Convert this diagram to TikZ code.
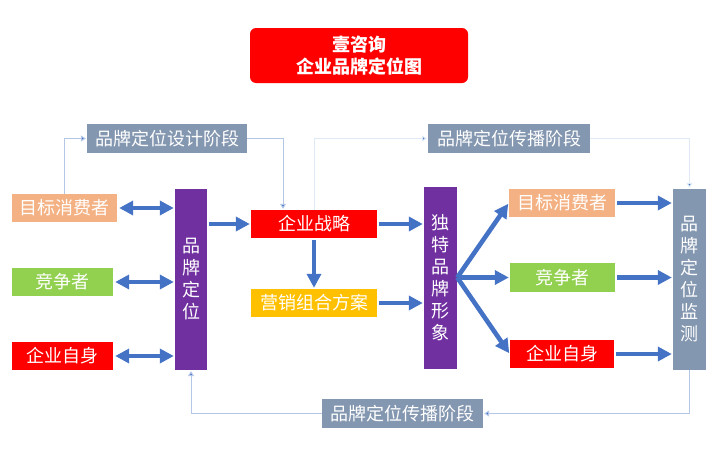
\documentclass[tikz,border=0pt]{standalone}
\usepackage{fontspec}
\setmainfont{Noto Sans CJK SC}
\usetikzlibrary{arrows.meta}
\definecolor{grisazul}{HTML}{8497B0}
\definecolor{naranja}{HTML}{F4B183}
\definecolor{verde}{HTML}{92D050}
\definecolor{morado}{HTML}{7030A0}
\definecolor{amarillo}{HTML}{FFC000}
\definecolor{azul}{HTML}{4472C4}
\definecolor{claro}{HTML}{B4C7E7}
\definecolor{muyclaro}{HTML}{DEEBF7}
\tikzset{
  caja/.style={text=white, inner sep=0pt, font=\fontsize{18}{20}\selectfont},
  barra/.style={caja, align=center, text width=20pt, font=\fontsize{18}{22}\selectfont},
  grueso/.style={azul, line width=4.6pt, -{Triangle[length=14pt,width=14pt]}, shorten >=1pt, shorten <=2pt},
  doble/.style={grueso, {Triangle[length=14pt,width=14pt]}-{Triangle[length=14pt,width=14pt]}},
  fino/.style={claro, line width=1pt},
  punta/.style={-{Triangle[length=5pt,width=6pt,fill=azul]}, shorten >=1pt}
}
\begin{document}
\begin{tikzpicture}[x=1pt,y=-1pt]
  \useasboundingbox (0,0) rectangle (720,450);

  % Titulo
  \node[caja, fill=red, rounded corners=6pt, minimum width=218pt, minimum height=55pt, align=center, font=\fontsize{18}{22}\selectfont\bfseries] (titulo) at (359,55.5) {壹咨询\\企业品牌定位图};

  % Etapas
  \node[caja, fill=grisazul, minimum width=160pt, minimum height=29pt] (diseno) at (167,138.5) {品牌定位设计阶段};
  \node[caja, fill=grisazul, minimum width=162pt, minimum height=29pt] (difusion) at (509,138.5) {品牌定位传播阶段};
  \node[caja, fill=grisazul, minimum width=161pt, minimum height=29pt] (retorno) at (402.5,413.5) {品牌定位传播阶段};

  % Columna izquierda
  \node[caja, fill=naranja, minimum width=105pt, minimum height=28pt] (consumoL) at (64.5,208) {目标消费者};
  \node[caja, fill=verde, minimum width=101pt, minimum height=28pt] (rivalL) at (62.5,282) {竞争者};
  \node[caja, fill=red, minimum width=101pt, minimum height=28pt] (empresaL) at (62.5,356) {企业自身};
  \node[barra, fill=morado, minimum width=32pt, minimum height=181pt] (posicion) at (191,279.5) {品\\牌\\定\\位};

  % Centro
  \node[caja, fill=red, minimum width=126pt, minimum height=28pt] (estrategia) at (314,224) {企业战略};
  \node[caja, fill=amarillo, minimum width=126pt, minimum height=28pt] (mezcla) at (314,303) {营销组合方案};
  \node[barra, fill=morado, minimum width=33pt, minimum height=182pt] (imagen) at (440.5,277.5) {独\\特\\品\\牌\\形\\象};

  % Columna derecha
  \node[caja, fill=naranja, minimum width=106pt, minimum height=28pt] (consumoR) at (562,203) {目标消费者};
  \node[caja, fill=verde, minimum width=105pt, minimum height=29pt] (rivalR) at (562.5,277.5) {竞争者};
  \node[caja, fill=red, minimum width=104pt, minimum height=28pt] (empresaR) at (562,354) {企业自身};
  \node[barra, fill=grisazul, minimum width=33pt, minimum height=181pt] (monitor) at (689.5,279.5) {品\\牌\\定\\位\\监\\测};

  % Flechas gruesas
  \draw[doble] (consumoL.east) -- (consumoL.east -| posicion.west);
  \draw[doble] (rivalL.east) -- (rivalL.east -| posicion.west);
  \draw[doble] (empresaL.east) -- (empresaL.east -| posicion.west);
  \draw[grueso] (estrategia.west -| posicion.east) -- (estrategia.west);
  \draw[grueso] (estrategia.south) -- (mezcla.north);
  \draw[grueso] (estrategia.east) -- (estrategia.east -| imagen.west);
  \draw[grueso] (mezcla.east) -- (mezcla.east -| imagen.west);
  \draw[grueso, shorten <=0pt] (imagen.east) -- (consumoR.west);
  \draw[grueso, shorten <=0pt] (imagen.east) -- (rivalR.west);
  \draw[grueso, shorten <=0pt] (imagen.east) -- (empresaR.west);
  \draw[grueso] (consumoR.east) -- (consumoR.east -| monitor.west);
  \draw[grueso] (rivalR.east) -- (rivalR.east -| monitor.west);
  \draw[grueso] (empresaR.east) -- (empresaR.east -| monitor.west);

  % Flechas finas
  \draw[fino, punta] (consumoL.north) |- (diseno.west);
  \draw[fino, punta] (diseno.east) -| ([xshift=-31pt]estrategia.north);
  \draw[fino, muyclaro, punta] (estrategia.north) |- (difusion.west);
  \draw[fino, muyclaro, punta] (difusion.east) -| (monitor.north);
  \draw[fino, punta] (monitor.south) |- (retorno.east);
  \draw[fino, punta] (retorno.west) -| (posicion.south);
\end{tikzpicture}
\end{document}
